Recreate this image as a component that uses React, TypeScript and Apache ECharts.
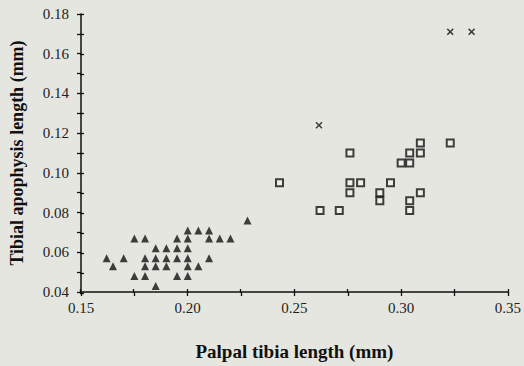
import React, { useEffect, useRef } from "react";
import * as echarts from "echarts";

// Triangles: [palpal tibia length, tibial apophysis length]
const triangleX = [0.2, 0.205, 0.21, 0.175, 0.18, 0.195, 0.2, 0.21, 0.215, 0.22, 0.185, 0.19, 0.195, 0.2, 0.162, 0.17, 0.18, 0.185, 0.19, 0.195, 0.2, 0.21, 0.165, 0.18, 0.185, 0.19, 0.2, 0.205, 0.175, 0.18, 0.195, 0.2, 0.185, 0.228];
const triangleY = [0.071, 0.071, 0.071, 0.067, 0.067, 0.067, 0.067, 0.067, 0.067, 0.067, 0.062, 0.062, 0.062, 0.062, 0.057, 0.057, 0.057, 0.057, 0.057, 0.057, 0.057, 0.057, 0.053, 0.053, 0.053, 0.053, 0.053, 0.053, 0.048, 0.048, 0.048, 0.048, 0.043, 0.076];

const squareX = [0.243, 0.262, 0.271, 0.276, 0.276, 0.281, 0.276, 0.29, 0.29, 0.295, 0.3, 0.304, 0.304, 0.309, 0.309, 0.323, 0.304, 0.304, 0.309];
const squareY = [0.095, 0.081, 0.081, 0.11, 0.095, 0.095, 0.09, 0.09, 0.086, 0.095, 0.105, 0.105, 0.11, 0.11, 0.115, 0.115, 0.086, 0.081, 0.09];

const crossX = [0.2615, 0.323, 0.333];
const crossY = [0.124, 0.171, 0.171];

const pairs = (xs: number[], ys: number[]) => xs.map((x, i) => [x, ys[i]]);

const FONT = "'Liberation Serif', 'Times New Roman', serif";
const GRID = { left: 80, right: 16, top: 14, bottom: 73 };

export default function App() {
  const ref = useRef<HTMLDivElement>(null);
  useEffect(() => {
    if (!ref.current) return;
    const chart = echarts.init(ref.current, undefined, { renderer: "svg" });
    const axisLine = { show: true, lineStyle: { color: "#111", width: 1.5 } };
    const tickStyle = { color: "#111", width: 1.3 };
    chart.setOption({
      animation: false,
      backgroundColor: "#e5e6df",
      grid: [{ ...GRID }, { ...GRID }],
      xAxis: [
        {
          gridIndex: 0,
          type: "value",
          min: 0.15,
          max: 0.35,
          interval: 0.05,
          axisLine,
          axisTick: { show: true, length: 4, lineStyle: tickStyle },
          minorTick: { show: true, splitNumber: 2, length: 4, lineStyle: tickStyle },
          splitLine: { show: false },
          axisLabel: {
            color: "#222",
            fontFamily: FONT,
            fontSize: 15,
            margin: 8,
            formatter: (v: number) => v.toFixed(2),
          },
          name: "Palpal tibia length (mm)",
          nameLocation: "middle",
          nameGap: 50,
          nameTextStyle: { color: "#111", fontFamily: FONT, fontSize: 19, fontWeight: "bold" },
        },
        {
          gridIndex: 1,
          type: "value",
          min: 0.15,
          max: 0.35,
          interval: 0.05,
          axisLine: { show: false },
          axisTick: { show: true, inside: true, length: 4, lineStyle: tickStyle },
          minorTick: { show: true, splitNumber: 2, length: 4, lineStyle: tickStyle },
          splitLine: { show: false },
          axisLabel: { show: false },
        },
      ],
      yAxis: [
        {
          gridIndex: 0,
          type: "value",
          min: 0.04,
          max: 0.18,
          interval: 0.02,
          axisLine,
          axisTick: { show: true, length: 4, lineStyle: tickStyle },
          minorTick: { show: true, splitNumber: 2, length: 4, lineStyle: tickStyle },
          splitLine: { show: false },
          axisLabel: {
            color: "#222",
            fontFamily: FONT,
            fontSize: 15,
            margin: 12,
            formatter: (v: number) => v.toFixed(2),
          },
          name: "Tibial apophysis length (mm)",
          nameLocation: "middle",
          nameRotate: 90,
          nameGap: 55,
          nameTextStyle: { color: "#111", fontFamily: FONT, fontSize: 18, fontWeight: "bold" },
        },
        {
          gridIndex: 1,
          type: "value",
          min: 0.04,
          max: 0.18,
          interval: 0.02,
          axisLine: { show: false },
          axisTick: { show: true, inside: true, length: 4, lineStyle: tickStyle },
          minorTick: { show: true, splitNumber: 2, length: 4, lineStyle: tickStyle },
          splitLine: { show: false },
          axisLabel: { show: false },
        },
      ],
      series: [
        {
          type: "scatter",
          xAxisIndex: 0,
          yAxisIndex: 0,
          symbol: "triangle",
          symbolSize: 8,
          itemStyle: { color: "#111" },
          data: pairs(triangleX, triangleY),
        },
        {
          type: "scatter",
          xAxisIndex: 0,
          yAxisIndex: 0,
          symbol: "rect",
          symbolSize: 7,
          itemStyle: { color: "#f2f2ee", borderColor: "#111", borderWidth: 2 },
          data: pairs(squareX, squareY),
        },
        {
          type: "scatter",
          xAxisIndex: 0,
          yAxisIndex: 0,
          symbol: "path://M0,1.5L1.5,0L5,3.5L8.5,0L10,1.5L6.5,5L10,8.5L8.5,10L5,6.5L1.5,10L0,8.5L3.5,5Z",
          symbolSize: 7,
          itemStyle: { color: "#111" },
          data: pairs(crossX, crossY),
        },
      ],
    });
    return () => chart.dispose();
  }, []);
  return <div ref={ref} style={{ width: 524, height: 366, position: "absolute", left: 0, top: 0 }} />;
}
